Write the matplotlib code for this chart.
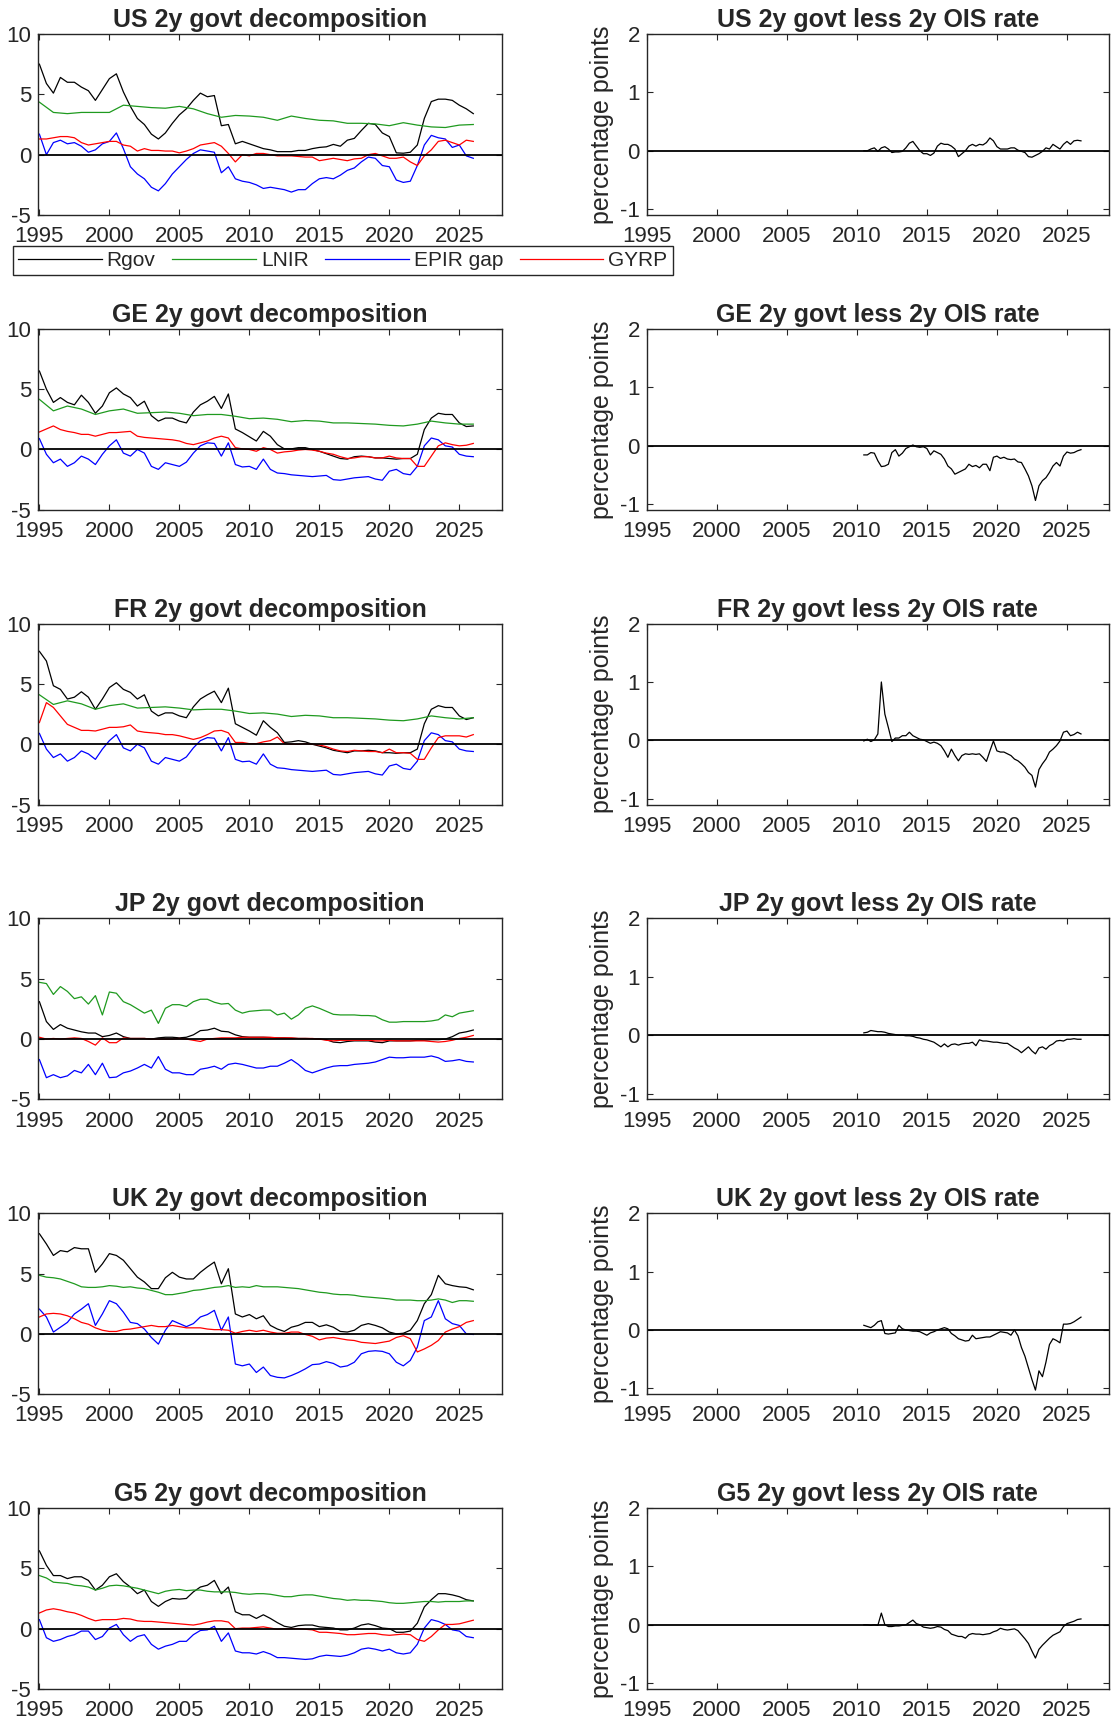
import numpy as np
import matplotlib.pyplot as plt

plt.rcParams['font.family'] = ['Liberation Sans', 'DejaVu Sans']
plt.rcParams['axes.unicode_minus'] = False

# pays / series
regions = ['US', 'GE', 'FR', 'JP', 'UK', 'G5']
series_names = ['Rgov', 'LNIR', 'EPIR gap', 'GYRP']
series_colors = ['black', '#1f9a1f', '#0000ff', '#ff0000']
year_ticks = [1995, 2000, 2005, 2010, 2015, 2020, 2025]

# decomposition: half-yearly values 1995.0 .. 2026.0 (LNIR of US/GE/FR yearly)
us_rgov = [7.5, 5.9, 5.1, 6.4, 6.0, 6.0, 5.6, 5.3, 4.5, 5.4,      # 1995
           6.3, 6.7, 5.2, 4.0, 3.0, 2.5, 1.7, 1.3, 1.8, 2.6,      # 2000
           3.3, 3.8, 4.5, 5.1, 4.8, 4.9, 2.4, 2.5, 0.9, 1.1,      # 2005
           0.9, 0.7, 0.5, 0.4, 0.25, 0.25, 0.25, 0.35, 0.35, 0.5, # 2010
           0.6, 0.65, 0.85, 0.7, 1.2, 1.35, 2.0, 2.6, 2.5, 1.8,   # 2015
           1.5, 0.15, 0.12, 0.2, 0.8, 3.0, 4.4, 4.6, 4.6, 4.5,    # 2020
           4.1, 3.8, 3.4]                                         # 2025
us_lnir = [4.35, 3.5, 3.4, 3.5, 3.5, 3.5, 4.1, 4.0, 3.9, 3.85,
           4.0, 3.8, 3.4, 3.1, 3.25, 3.2, 3.1, 2.85, 3.2, 3.0,
           2.85, 2.8, 2.6, 2.6, 2.55, 2.4, 2.65, 2.45, 2.3, 2.25,
           2.45, 2.5]
us_epir = [1.7, 0.0, 1.0, 1.2, 0.9, 1.0, 0.7, 0.2, 0.4, 0.9,
           1.1, 1.8, 0.5, -1.0, -1.6, -2.0, -2.7, -3.0, -2.4, -1.6,
           -1.0, -0.4, 0.1, 0.4, 0.3, 0.2, -1.5, -1.0, -2.0, -2.2,
           -2.3, -2.5, -2.8, -2.7, -2.8, -2.9, -3.1, -2.9, -2.9, -2.4,
           -2.0, -1.9, -2.0, -1.7, -1.3, -1.1, -0.6, -0.2, -0.3, -0.9,
           -1.0, -2.1, -2.3, -2.2, -0.9, 0.8, 1.6, 1.4, 1.3, 0.6,
           0.8, -0.1, -0.3]
us_gyrp = [1.3, 1.3, 1.4, 1.5, 1.5, 1.4, 1.0, 0.8, 0.9, 1.0,
           1.1, 1.1, 0.8, 0.7, 0.3, 0.5, 0.35, 0.35, 0.3, 0.3,
           0.15, 0.3, 0.5, 0.8, 0.9, 1.0, 0.7, 0.1, -0.6, 0.0,
           -0.1, 0.1, 0.1, 0.0, -0.1, -0.1, -0.1, -0.15, -0.2, -0.2,
           -0.5, -0.4, -0.3, -0.4, -0.5, -0.35, -0.3, 0.0, 0.1, -0.1,
           -0.3, -0.3, -0.2, -0.6, -0.9, -0.1, 0.4, 1.1, 1.2, 1.0,
           0.8, 1.2, 1.1]

ge_rgov = [6.5, 5.0, 3.9, 4.3, 3.9, 3.7, 4.5, 3.9, 3.0, 3.6,
           4.7, 5.1, 4.6, 4.3, 3.6, 4.0, 2.8, 2.35, 2.6, 2.6,
           2.35, 2.2, 3.1, 3.7, 4.0, 4.4, 3.4, 4.6, 1.7, 1.4,
           1.05, 0.7, 1.5, 1.1, 0.4, 0.05, 0.05, 0.15, 0.15, 0.0,
           -0.15, -0.35, -0.55, -0.75, -0.8, -0.6, -0.55, -0.6, -0.7, -0.7,
           -0.75, -0.8, -0.75, -0.75, -0.4, 1.65, 2.6, 3.0, 2.9, 2.9,
           2.2, 1.9, 1.95]
ge_lnir = [4.15, 3.2, 3.6, 3.35, 2.9, 3.2, 3.35, 3.0, 3.05, 3.1,
           3.0, 2.8, 2.9, 2.9, 2.75, 2.55, 2.6, 2.5, 2.3, 2.4,
           2.35, 2.2, 2.2, 2.15, 2.1, 2.0, 1.95, 2.1, 2.35, 2.2,
           2.1, 2.1]
ge_epir = [0.9, -0.4, -1.1, -0.8, -1.4, -1.1, -0.55, -0.8, -1.25, -0.4,
           0.3, 0.8, -0.3, -0.55, 0.0, -0.3, -1.4, -1.65, -1.1, -1.25,
           -1.4, -1.05, -0.3, 0.3, 0.55, 0.5, -0.55, 0.55, -1.25, -1.45,
           -1.4, -1.65, -0.8, -1.65, -1.95, -2.0, -2.1, -2.15, -2.2, -2.25,
           -2.2, -2.15, -2.5, -2.55, -2.45, -2.35, -2.3, -2.25, -2.45, -2.55,
           -1.8, -1.65, -2.0, -2.1, -1.4, 0.3, 0.95, 0.8, 0.3, 0.2,
           -0.4, -0.55, -0.6]
ge_gyrp = [1.45, 1.7, 1.95, 1.65, 1.5, 1.4, 1.25, 1.25, 1.1, 1.25,
           1.4, 1.4, 1.45, 1.5, 1.1, 1.0, 0.95, 0.9, 0.85, 0.8,
           0.7, 0.5, 0.4, 0.55, 0.7, 0.95, 1.1, 0.95, 0.15, 0.05,
           0.0, -0.15, 0.15, 0.0, -0.3, -0.2, -0.15, -0.05, 0.0, -0.05,
           -0.15, -0.3, -0.4, -0.6, -0.75, -0.7, -0.6, -0.6, -0.7, -0.7,
           -0.55, -0.7, -0.75, -0.75, -1.4, -1.4, -0.55, 0.3, 0.55, 0.4,
           0.3, 0.35, 0.5]

fr_rgov = [7.7, 6.9, 4.85, 4.55, 3.75, 3.9, 4.35, 3.9, 2.9, 3.75,
           4.7, 5.1, 4.55, 4.3, 3.75, 4.1, 2.75, 2.35, 2.6, 2.6,
           2.35, 2.2, 3.1, 3.75, 4.1, 4.4, 3.45, 4.65, 1.7, 1.4,
           1.1, 0.75, 1.95, 1.4, 0.95, 0.15, 0.2, 0.3, 0.2, 0.0,
           -0.15, -0.3, -0.5, -0.6, -0.7, -0.55, -0.55, -0.5, -0.55, -0.7,
           -0.7, -0.75, -0.7, -0.7, -0.4, 1.7, 2.9, 3.2, 3.05, 3.05,
           2.35, 2.05, 2.2]
fr_lnir = [4.1, 3.3, 3.6, 3.35, 2.9, 3.2, 3.35, 3.0, 3.05, 3.1,
           3.0, 2.85, 2.9, 2.9, 2.75, 2.55, 2.6, 2.5, 2.3, 2.4,
           2.35, 2.2, 2.2, 2.15, 2.1, 2.0, 1.95, 2.1, 2.35, 2.2,
           2.1, 2.2]
fr_epir = list(ge_epir)  # same euro-area policy path
fr_gyrp = [1.8, 3.45, 3.05, 2.35, 1.65, 1.4, 1.15, 1.15, 1.1, 1.25,
           1.4, 1.4, 1.45, 1.6, 1.1, 1.0, 0.95, 0.9, 0.8, 0.8,
           0.7, 0.55, 0.4, 0.55, 0.8, 1.1, 1.15, 0.95, 0.15, 0.15,
           0.05, 0.05, 0.2, 0.3, 0.6, 0.05, 0.0, 0.0, 0.05, 0.0,
           -0.05, -0.2, -0.4, -0.55, -0.6, -0.5, -0.55, -0.6, -0.6, -0.7,
           -0.4, -0.7, -0.7, -0.75, -1.25, -1.25, -0.3, 0.55, 0.7, 0.7,
           0.7, 0.6, 0.8]

jp_rgov = [3.1, 1.45, 0.8, 1.2, 0.9, 0.75, 0.6, 0.5, 0.5, 0.2,
           0.3, 0.5, 0.2, 0.05, 0.05, 0.05, 0.0, 0.1, 0.15, 0.15,
           0.1, 0.15, 0.35, 0.7, 0.75, 0.9, 0.65, 0.6, 0.35, 0.2,
           0.15, 0.15, 0.15, 0.12, 0.1, 0.1, 0.07, 0.05, 0.05, 0.03,
           0.0, -0.05, -0.25, -0.3, -0.2, -0.15, -0.15, -0.15, -0.25, -0.3,
           -0.15, -0.15, -0.15, -0.15, -0.1, -0.1, -0.05, -0.05, 0.0, 0.2,
           0.5, 0.6, 0.75]
jp_lnir = [4.7, 4.6, 3.7, 4.35, 3.95, 3.35, 3.5, 2.9, 3.6, 2.0,
           3.9, 3.8, 3.1, 2.85, 2.5, 2.15, 2.4, 1.3, 2.55, 2.85,
           2.85, 2.7, 3.1, 3.3, 3.3, 3.05, 2.9, 2.95, 2.4, 2.15,
           2.3, 2.35, 2.4, 2.4, 2.0, 2.15, 1.65, 2.0, 2.55, 2.75,
           2.55, 2.3, 2.05, 2.0, 2.0, 2.0, 1.95, 1.95, 1.9, 1.6,
           1.4, 1.4, 1.45, 1.45, 1.45, 1.45, 1.5, 1.6, 2.0, 1.85,
           2.15, 2.25, 2.35]
jp_epir = [-1.7, -3.2, -2.95, -3.2, -3.05, -2.6, -2.8, -2.1, -2.95, -2.0,
           -3.2, -3.15, -2.8, -2.65, -2.4, -2.1, -2.4, -1.45, -2.5, -2.8,
           -2.8, -2.95, -2.95, -2.5, -2.4, -2.25, -2.5, -2.1, -2.0, -2.1,
           -2.25, -2.4, -2.4, -2.25, -2.25, -2.0, -1.7, -2.1, -2.6, -2.8,
           -2.6, -2.4, -2.25, -2.2, -2.2, -2.1, -2.05, -2.0, -1.9, -1.7,
           -1.5, -1.55, -1.55, -1.5, -1.5, -1.5, -1.4, -1.55, -1.85, -1.8,
           -1.7, -1.85, -1.9]
jp_gyrp = [0.15, 0.0, 0.05, 0.0, 0.05, 0.1, 0.05, -0.2, -0.5, 0.1,
           -0.3, -0.3, 0.1, 0.05, 0.05, 0.05, 0.0, 0.0, 0.0, 0.0,
           0.05, 0.0, -0.1, -0.2, 0.0, 0.05, 0.1, 0.1, 0.1, 0.15,
           0.15, 0.15, 0.15, 0.15, 0.1, 0.1, 0.1, 0.05, 0.05, 0.05,
           0.0, -0.1, -0.15, -0.1, -0.1, -0.1, -0.1, -0.1, -0.15, -0.15,
           -0.1, -0.15, -0.15, -0.15, -0.15, -0.15, -0.2, -0.25, -0.2, -0.1,
           0.05, 0.15, 0.3]

uk_rgov = [8.3, 7.45, 6.5, 6.9, 6.8, 7.15, 7.05, 7.05, 5.1, 5.8,
           6.65, 6.5, 6.1, 5.4, 4.7, 4.3, 3.75, 3.75, 4.65, 5.1,
           4.7, 4.55, 4.55, 5.1, 5.55, 5.95, 4.15, 5.4, 1.65, 1.4,
           1.6, 1.25, 1.5, 0.7, 0.4, 0.2, 0.55, 0.7, 0.95, 0.95,
           0.6, 0.75, 0.55, 0.2, 0.15, 0.3, 0.7, 0.85, 0.7, 0.5,
           0.15, 0.0, 0.05, 0.3, 1.1, 2.5, 3.25, 4.85, 4.15, 4.0,
           3.9, 3.85, 3.65]
uk_lnir = [4.85, 4.7, 4.65, 4.55, 4.35, 4.15, 3.9, 3.85, 3.85, 3.9,
           4.0, 3.95, 3.85, 3.9, 3.8, 3.75, 3.6, 3.45, 3.25, 3.25,
           3.35, 3.45, 3.6, 3.65, 3.75, 3.85, 3.9, 4.0, 3.85, 3.9,
           3.85, 4.0, 3.9, 3.9, 3.9, 3.85, 3.8, 3.75, 3.65, 3.55,
           3.45, 3.4, 3.3, 3.25, 3.25, 3.2, 3.1, 3.05, 3.0, 2.95,
           2.9, 2.8, 2.8, 2.8, 2.75, 2.75, 2.8, 2.9, 2.8, 2.6,
           2.75, 2.75, 2.7]
uk_epir = [2.05, 1.4, 0.15, 0.55, 0.95, 1.65, 2.05, 2.5, 0.7, 1.65,
           2.75, 2.5, 1.8, 0.95, 0.85, 0.4, -0.3, -0.85, 0.3, 1.1,
           0.85, 0.6, 0.85, 1.4, 1.6, 1.95, 0.3, 1.4, -2.5, -2.65,
           -2.5, -3.2, -2.75, -3.45, -3.6, -3.65, -3.45, -3.2, -2.9, -2.55,
           -2.5, -2.3, -2.45, -2.75, -2.65, -2.35, -1.65, -1.45, -1.4, -1.45,
           -1.65, -2.35, -2.65, -2.2, -1.1, 1.1, 1.4, 2.75, 1.25, 0.85,
           0.7, 0.0, -0.05]
uk_gyrp = [1.4, 1.65, 1.7, 1.65, 1.5, 1.25, 0.95, 0.8, 0.5, 0.3,
           0.2, 0.2, 0.35, 0.4, 0.5, 0.6, 0.7, 0.6, 0.6, 0.7,
           0.6, 0.5, 0.5, 0.5, 0.4, 0.35, 0.35, 0.3, 0.05, 0.2,
           0.3, 0.2, 0.3, 0.15, 0.05, 0.05, 0.15, 0.15, -0.05, -0.2,
           -0.5, -0.35, -0.3, -0.4, -0.5, -0.55, -0.7, -0.75, -0.8, -0.7,
           -0.6, -0.3, -0.15, -0.4, -1.5, -1.25, -0.95, -0.55, 0.15, 0.4,
           0.6, 0.95, 1.1]

g5_rgov = [6.45, 5.25, 4.4, 4.4, 4.15, 4.3, 4.3, 4.0, 3.2, 3.6,
           4.3, 4.55, 3.9, 3.45, 2.9, 3.2, 2.25, 1.85, 2.25, 2.5,
           2.45, 2.5, 3.05, 3.45, 3.6, 4.0, 2.9, 3.45, 1.4, 1.15,
           1.15, 0.85, 1.15, 0.85, 0.5, 0.2, 0.1, 0.25, 0.3, 0.3,
           0.15, 0.1, 0.05, -0.1, -0.1, 0.05, 0.3, 0.4, 0.25, 0.05,
           0.0, -0.3, -0.3, -0.2, 0.45, 1.8, 2.4, 2.9, 2.9, 2.8,
           2.65, 2.4, 2.3]
g5_lnir = [4.4, 4.2, 3.85, 3.8, 3.75, 3.6, 3.55, 3.45, 3.2, 3.35,
           3.55, 3.6, 3.55, 3.45, 3.35, 3.2, 3.05, 2.9, 3.1, 3.2,
           3.25, 3.15, 3.2, 3.2, 3.1, 3.05, 3.05, 3.05, 3.0, 2.9,
           2.85, 2.9, 2.9, 2.85, 2.75, 2.65, 2.65, 2.75, 2.8, 2.8,
           2.7, 2.6, 2.5, 2.45, 2.35, 2.4, 2.35, 2.35, 2.3, 2.25,
           2.15, 2.1, 2.1, 2.15, 2.2, 2.25, 2.25, 2.2, 2.25, 2.25,
           2.25, 2.3, 2.3]
g5_epir = [0.75, -0.75, -1.05, -0.9, -0.65, -0.5, -0.2, -0.2, -0.9, -0.65,
           0.05, 0.35, -0.5, -1.05, -0.65, -0.5, -1.3, -1.7, -1.45, -1.3,
           -1.05, -1.05, -0.5, -0.15, -0.1, 0.2, -1.05, -0.35, -1.85, -2.0,
           -2.0, -2.1, -1.9, -2.1, -2.4, -2.4, -2.45, -2.5, -2.55, -2.5,
           -2.3, -2.2, -2.25, -2.3, -2.2, -2.0, -1.7, -1.6, -1.7, -1.85,
           -1.7, -2.0, -2.1, -2.0, -1.3, 0.05, 0.75, 0.6, 0.35, -0.1,
           -0.2, -0.65, -0.75]
g5_gyrp = [1.3, 1.55, 1.65, 1.55, 1.4, 1.3, 1.1, 0.85, 0.65, 0.75,
           0.75, 0.75, 0.85, 0.8, 0.65, 0.6, 0.6, 0.55, 0.5, 0.45,
           0.4, 0.35, 0.3, 0.4, 0.55, 0.65, 0.65, 0.55, 0.0, 0.05,
           0.05, 0.1, 0.15, 0.05, -0.05, 0.0, 0.0, 0.0, -0.05, -0.1,
           -0.3, -0.3, -0.35, -0.4, -0.5, -0.5, -0.45, -0.4, -0.4, -0.5,
           -0.55, -0.5, -0.45, -0.5, -0.9, -1.05, -0.65, -0.1, 0.35, 0.35,
           0.4, 0.55, 0.7]

# govt less OIS: quarterly values 2010.5 .. 2026.0
us_ois = [0.0, 0.0, 0.03, 0.05, -0.01, 0.05, 0.07, 0.03, -0.03, -0.02,
          -0.02, -0.01, 0.05, 0.13, 0.16, 0.08, 0.0, -0.05, -0.05, -0.08,
          -0.04, 0.08, 0.13, 0.11, 0.11, 0.08, 0.03, -0.1, -0.05, 0.0,
          0.08, 0.11, 0.08, 0.11, 0.1, 0.14, 0.22, 0.17, 0.07, 0.03,
          0.03, 0.03, 0.05, 0.05, 0.01, -0.01, -0.03, -0.1, -0.11, -0.08,
          -0.05, -0.01, 0.05, 0.03, 0.11, 0.07, 0.03, 0.11, 0.16, 0.11,
          0.17, 0.18, 0.17]
ge_ois = [-0.16, -0.16, -0.12, -0.13, -0.26, -0.36, -0.35, -0.32, -0.12, -0.07,
          -0.18, -0.13, -0.05, -0.02, 0.01, -0.02, -0.03, -0.02, -0.05, -0.16,
          -0.09, -0.12, -0.15, -0.23, -0.35, -0.4, -0.49, -0.46, -0.43, -0.4,
          -0.32, -0.36, -0.34, -0.38, -0.32, -0.32, -0.43, -0.2, -0.18, -0.22,
          -0.2, -0.23, -0.24, -0.23, -0.28, -0.29, -0.4, -0.52, -0.69, -0.94,
          -0.69, -0.6, -0.55, -0.46, -0.35, -0.29, -0.35, -0.18, -0.11, -0.13,
          -0.12, -0.09, -0.07]
fr_ois = [-0.01, 0.02, -0.02, 0.01, 0.11, 1.0, 0.45, 0.22, -0.02, 0.04,
          0.04, 0.08, 0.08, 0.14, 0.08, 0.05, 0.02, 0.01, -0.02, -0.05,
          -0.03, -0.05, -0.09, -0.18, -0.29, -0.15, -0.26, -0.35, -0.26, -0.23,
          -0.24, -0.23, -0.24, -0.23, -0.29, -0.36, -0.18, -0.01, -0.18, -0.2,
          -0.2, -0.23, -0.26, -0.32, -0.35, -0.4, -0.46, -0.55, -0.6, -0.8,
          -0.5, -0.4, -0.32, -0.2, -0.15, -0.09, -0.01, 0.14, 0.16, 0.08,
          0.1, 0.14, 0.11]
jp_ois = [0.04, 0.05, 0.08, 0.07, 0.06, 0.06, 0.05, 0.03, 0.02, 0.01,
          0.0, 0.0, -0.01, -0.01, -0.02, -0.04, -0.05, -0.07, -0.08, -0.1,
          -0.12, -0.16, -0.2, -0.15, -0.2, -0.16, -0.15, -0.17, -0.15, -0.14,
          -0.14, -0.12, -0.18, -0.08, -0.1, -0.1, -0.11, -0.12, -0.12, -0.13,
          -0.14, -0.14, -0.18, -0.22, -0.25, -0.3, -0.25, -0.2, -0.27, -0.32,
          -0.22, -0.2, -0.24, -0.18, -0.15, -0.1, -0.09, -0.1, -0.07, -0.07,
          -0.06, -0.07, -0.07]
uk_ois = [0.08, 0.06, 0.04, 0.08, 0.14, 0.16, -0.06, -0.07, -0.06, -0.05,
          0.08, 0.02, 0.0, -0.01, -0.02, -0.02, -0.03, -0.06, -0.09, -0.05,
          -0.03, 0.0, 0.02, 0.04, 0.02, -0.06, -0.1, -0.15, -0.17, -0.19,
          -0.18, -0.09, -0.15, -0.14, -0.13, -0.12, -0.12, -0.09, -0.06, -0.03,
          -0.04, -0.05, -0.09, 0.0, -0.1, -0.3, -0.45, -0.65, -0.85, -1.03,
          -0.7, -0.8, -0.55, -0.25, -0.15, -0.18, -0.22, 0.1, 0.1, 0.11,
          0.14, 0.18, 0.22]
g5_ois = [0.0, 0.0, -0.01, 0.0, -0.01, 0.2, 0.0, -0.03, -0.03, -0.02,
          -0.02, -0.01, 0.0, 0.04, 0.08, 0.02, 0.0, -0.04, -0.05, -0.06,
          -0.05, -0.03, -0.04, -0.08, -0.1, -0.16, -0.18, -0.2, -0.2, -0.23,
          -0.17, -0.15, -0.16, -0.16, -0.17, -0.16, -0.15, -0.12, -0.1, -0.06,
          -0.08, -0.09, -0.08, -0.07, -0.1, -0.17, -0.24, -0.32, -0.45, -0.57,
          -0.42, -0.35, -0.29, -0.23, -0.18, -0.15, -0.12, -0.03, 0.02, 0.04,
          0.06, 0.09, 0.1]

decomp = {
    'US': [us_rgov, us_lnir, us_epir, us_gyrp],
    'GE': [ge_rgov, ge_lnir, ge_epir, ge_gyrp],
    'FR': [fr_rgov, fr_lnir, fr_epir, fr_gyrp],
    'JP': [jp_rgov, jp_lnir, jp_epir, jp_gyrp],
    'UK': [uk_rgov, uk_lnir, uk_epir, uk_gyrp],
    'G5': [g5_rgov, g5_lnir, g5_epir, g5_gyrp],
}
spreads = {'US': us_ois, 'GE': ge_ois, 'FR': fr_ois,
           'JP': jp_ois, 'UK': uk_ois, 'G5': g5_ois}

GRIS = '#262626'


def habiller(ax):
    """Style MATLAB : boite, ticks vers l'interieur."""
    for s in ax.spines.values():
        s.set_color(GRIS)
        s.set_linewidth(1.0)
    ax.tick_params(direction='in', top=True, right=True, length=4, width=0.8,
                   colors=GRIS, labelsize=16, pad=5)
    ax.tick_params(axis='x', pad=8)
    ax.set_xticks(year_ticks)


W, H = 1113, 1730
fig = plt.figure(figsize=(W / 100, H / 100), dpi=100)

handles = []
for i, reg in enumerate(regions):
    top = 34 + 294.8 * i
    y0 = 1 - (top + 181) / H

    # gauche : decomposition
    axl = fig.add_axes([38 / W, y0, 464 / W, 181 / H])
    for vals, col, nom in zip(decomp[reg], series_colors, series_names):
        x = np.linspace(1995, 2026, len(vals))
        ln, = axl.plot(x, vals, color=col, lw=0.9, label=nom)
        if i == 0:
            handles.append(ln)
    axl.axhline(0, color='black', lw=1.3)
    axl.set_xlim(1994.9, 2028.05)
    axl.set_ylim(-5, 10)
    axl.set_yticks([-5, 0, 5, 10])
    axl.set_title(f'{reg} 2y govt decomposition', fontsize=18,
                  fontweight='bold', color=GRIS, pad=5)
    axl.set_ylabel('percentage points', fontsize=18, color=GRIS, labelpad=4)
    habiller(axl)

    # droite : govt moins OIS
    axr = fig.add_axes([646.7 / W, y0, 462.3 / W, 181 / H])
    s = spreads[reg]
    axr.plot(np.linspace(2010.5, 2026.0, len(s)), s, color='black', lw=0.9)
    axr.axhline(0, color='black', lw=1.3)
    axr.set_xlim(1995, 2028)
    axr.set_ylim(-1.1, 2)
    axr.set_yticks([-1, 0, 1, 2])
    axr.set_title(f'{reg} 2y govt less 2y OIS rate', fontsize=18,
                  fontweight='bold', color=GRIS, pad=5)
    axr.set_ylabel('percentage points', fontsize=18, color=GRIS, labelpad=4)
    habiller(axr)

leg = fig.legend(handles, series_names, loc='upper left',
                 bbox_to_anchor=(13 / W, 1 - 246 / H), ncol=4, fontsize=15,
                 handlelength=4.0, handletextpad=0.25, columnspacing=0.8,
                 borderpad=0.25, borderaxespad=0, frameon=True, fancybox=False,
                 edgecolor=GRIS, framealpha=1)
leg.get_frame().set_linewidth(1.0)
for t in leg.get_texts():
    t.set_color(GRIS)

fig.savefig('out.png', dpi=100)
